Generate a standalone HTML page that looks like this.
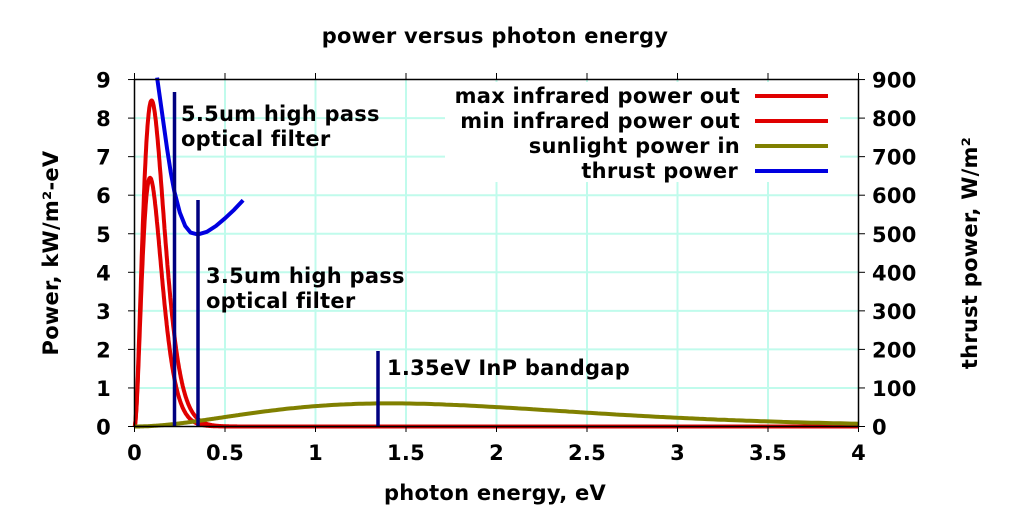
<!DOCTYPE html>
<html><head><meta charset="utf-8"><style>
html,body{margin:0;padding:0;background:#fff}
svg{display:block}
text{font-family:"DejaVu Sans","Liberation Sans",sans-serif;font-weight:bold;fill:#000;letter-spacing:0.25px}
</style></head><body>
<svg id="s" width="1024" height="512" viewBox="0 0 1024 512" xmlns="http://www.w3.org/2000/svg">
<rect width="1024" height="512" fill="#fff"/>
<g id="grid" stroke="#c0fbec" stroke-width="2"></g>
<rect x="445" y="82" width="395" height="100" fill="#fff"/>
<g id="series" fill="none" stroke-width="4" stroke-linejoin="round"></g>
<g stroke="#000080" stroke-width="3.5">
<line x1="174.5" y1="426" x2="174.5" y2="92"/>
<line x1="198" y1="426" x2="198" y2="200"/>
<line x1="378" y1="426" x2="378" y2="351"/>
</g>
<rect x="134.5" y="79.5" width="724" height="347" fill="none" stroke="#000" stroke-width="1.5"/>
<g id="ticks" stroke="#000" stroke-width="1"></g>
<g id="labels" font-size="21"></g>
<text x="495" y="43" font-size="21" text-anchor="middle">power versus photon energy</text>
<text x="495" y="500" font-size="21" text-anchor="middle">photon energy, eV</text>
<text transform="translate(58,253) rotate(-90)" font-size="21" text-anchor="middle">Power, kW/m²-eV</text>
<text transform="translate(977,253) rotate(-90)" font-size="21" text-anchor="middle">thrust power, W/m²</text>
<text x="181" y="121" font-size="21">5.5um high pass</text>
<text x="181" y="146" font-size="21">optical filter</text>
<text x="206" y="283" font-size="21">3.5um high pass</text>
<text x="206" y="308" font-size="21">optical filter</text>
<text x="387" y="375" font-size="21">1.35eV InP bandgap</text>
<g font-size="21" text-anchor="end">
<text x="740" y="103">max infrared power out</text>
<text x="740" y="128">min infrared power out</text>
<text x="740" y="153">sunlight power in</text>
<text x="738" y="178">thrust power</text>
</g>
<g stroke-width="4">
<line x1="755" y1="96" x2="828" y2="96" stroke="#e00000"/>
<line x1="755" y1="121" x2="828" y2="121" stroke="#e00000"/>
<line x1="755" y1="146" x2="828" y2="146" stroke="#808000"/>
<line x1="755" y1="171" x2="828" y2="171" stroke="#0000e0"/>
</g>
</svg>
<script>
const NS="http://www.w3.org/2000/svg";
const X=v=>134.5+v*181, Y=v=>426.5-v*38.55;
function el(p,t,a,txt){const e=document.createElementNS(NS,t);for(const k in a)e.setAttribute(k,a[k]);if(txt!==undefined)e.textContent=txt;document.getElementById(p).appendChild(e);}
for(let i=1;i<8;i++){el("grid","line",{x1:X(i*0.5),y1:79,x2:X(i*0.5),y2:426});}
for(let i=1;i<9;i++){el("grid","line",{x1:134,y1:Y(i),x2:858,y2:Y(i)});}
for(let i=0;i<=8;i++){const x=X(i*0.5);el("ticks","line",{x1:x,y1:426,x2:x,y2:432});el("ticks","line",{x1:x,y1:79,x2:x,y2:73});
 el("labels","text",{x:x,y:460,"text-anchor":"middle"},String(i*0.5));}
for(let i=0;i<=9;i++){const y=Y(i);el("ticks","line",{x1:128,y1:y,x2:134,y2:y});el("ticks","line",{x1:859,y1:y,x2:865,y2:y});
 el("labels","text",{x:111,y:y+8,"text-anchor":"end"},String(i));
 el("labels","text",{x:872,y:y+8,"text-anchor":"start"},String(i*100));}
function planck(peak,px,kT){const f=x=>x>0?x*x*x/(Math.exp(x/kT)-1):0;const fp=f(px);let d="";
 for(let x=0;x<=4.0001;x+=(x<0.6?0.002:0.02)){d+=(d?"L":"M")+X(x).toFixed(1)+","+Y(peak*f(x)/fp).toFixed(1);}return d;}
el("series","path",{d:planck(6.45,0.085,0.0305),stroke:"#e00000"});
el("series","path",{d:planck(8.45,0.092,0.0335),stroke:"#e00000"});
el("series","path",{d:planck(0.6,1.41,0.5),stroke:"#808000"});
const tp=[[0.125,9.05],[0.15,8.2],[0.18,7.2],[0.2,6.6],[0.22,6.1],[0.25,5.55],[0.28,5.2],[0.31,5.03],[0.35,4.98],[0.4,5.05],[0.45,5.2],[0.5,5.4],[0.55,5.62],[0.6,5.87]];
el("series","path",{d:tp.map((p,i)=>(i?"L":"M")+X(p[0]).toFixed(1)+","+Y(p[1]).toFixed(1)).join(""),stroke:"#0000e0"});
</script>
</body></html>
